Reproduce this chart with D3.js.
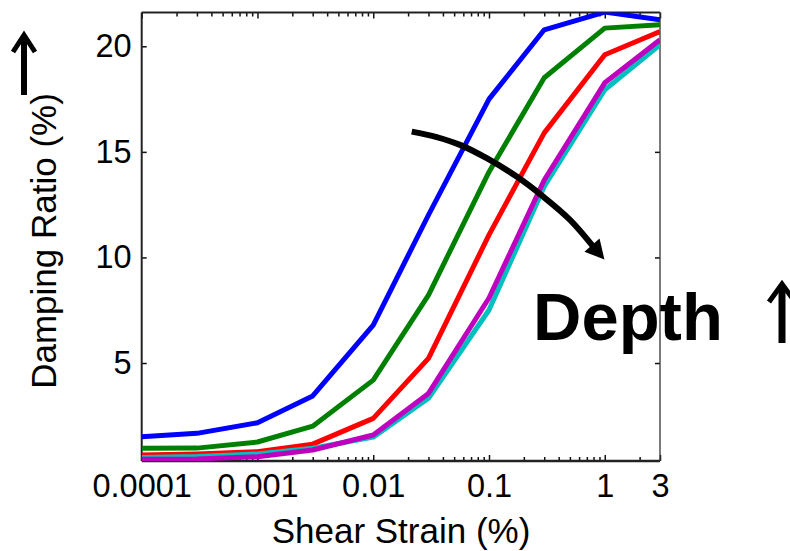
<!DOCTYPE html>
<html>
<head>
<meta charset="utf-8">
<script src="https://cdn.jsdelivr.net/npm/d3@7"></script>
<style>
  body { margin: 0; background: #fff; }
  text { font-family: "Liberation Sans", Arial, Helvetica, sans-serif; }
</style>
</head>
<body>
<div id="chart"></div>
<script>
// strain levels (%) where every curve was sampled
const strain = [0.0001, 0.0003, 0.001, 0.003, 0.01, 0.03, 0.1, 0.3, 1, 3];

// damping ratio (%) per curve, shallow -> deep
const dampBlue    = [1.51, 1.67, 2.17, 3.44, 6.80, 12.01, 17.50, 20.78, 21.62, 21.26];
const dampGreen   = [0.96, 0.97, 1.26, 2.01, 4.19, 8.22, 14.05, 18.51, 20.86, 21.02];
const dampRed     = [0.64, 0.69, 0.80, 1.16, 2.38, 5.22, 11.07, 15.90, 19.60, 20.70];
const dampCyan    = [0.53, 0.57, 0.69, 0.96, 1.49, 3.33, 7.51, 13.36, 17.94, 20.07];
const dampMagenta = [0.44, 0.46, 0.56, 0.88, 1.59, 3.56, 8.08, 13.67, 18.27, 20.31];

// tick values / labels
const xTicks = [0.0001, 0.001, 0.01, 0.1, 1, 3];
const xTickLabels = ["0.0001", "0.001", "0.01", "0.1", "1", "3"];
const yTicks = [5, 10, 15, 20];

// the curved "depth" arrow, in data units
const arrowStrain  = [0.0215, 0.0353, 0.0562, 0.0955, 0.1734, 0.294, 0.501, 0.796];
const arrowDamping = [15.96, 15.70, 15.33, 14.70, 13.83, 12.88, 11.78, 10.51];

const MARGIN = { TOP: 12.5, LEFT: 141.7 };
const WIDTH = 518.3;
const HEIGHT = 448.5;

const svg = d3.select("#chart")
  .append("svg")
  .attr("width", 790)
  .attr("height", 551);

const g = svg.append("g")
  .attr("transform", `translate(${MARGIN.LEFT},${MARGIN.TOP})`);

// scales
const x = d3.scaleLog().domain([0.0001, 3]).range([0, WIDTH]);
const y = d3.scaleLinear().domain([0.36, 21.6]).range([HEIGHT, 0]);

// minor log ticks (2..9 of every decade)
const minorTicks = [];
[0.0001, 0.001, 0.01, 0.1, 1].forEach(d => {
  for (let k = 2; k <= 9; k++) {
    const v = d * k;
    if (v <= 3 && !xTicks.includes(v)) minorTicks.push(+v.toPrecision(3));
  }
});

const FONT = '"Liberation Sans", Arial, Helvetica, sans-serif';

// bottom axis with labels
g.append("g")
  .attr("transform", `translate(0,${HEIGHT})`)
  .call(d3.axisBottom(x)
    .tickValues(xTicks)
    .tickFormat((d, i) => xTickLabels[i])
    .tickSize(-6)
    .tickSizeOuter(0)
    .tickPadding(13))
  .attr("font-size", 32.5)
  .attr("font-family", FONT);

// minor ticks on bottom and top
g.append("g")
  .attr("transform", `translate(0,${HEIGHT})`)
  .call(d3.axisBottom(x).tickValues(minorTicks).tickFormat("").tickSize(-4).tickSizeOuter(0));
g.append("g")
  .call(d3.axisTop(x).tickValues(minorTicks).tickFormat("").tickSize(-4).tickSizeOuter(0));
g.append("g")
  .call(d3.axisTop(x).tickValues(xTicks).tickFormat("").tickSize(-6).tickSizeOuter(0));

// left axis with labels, right axis plain
g.append("g")
  .call(d3.axisLeft(y)
    .tickValues(yTicks)
    .tickSize(-5)
    .tickSizeOuter(0)
    .tickPadding(10))
  .attr("font-size", 32.5)
  .attr("font-family", FONT);
g.append("g")
  .attr("transform", `translate(${WIDTH},0)`)
  .call(d3.axisRight(y).tickValues(yTicks).tickFormat("").tickSize(-5).tickSizeOuter(0));

// drop the default domain paths, the box is drawn below
g.selectAll(".domain").remove();
g.selectAll(".tick line").attr("stroke", "#111").attr("stroke-width", 1.5);
g.selectAll(".tick text").attr("fill", "#000");

// axes box
g.append("line").attr("x1", 0).attr("x2", 0).attr("y1", 0).attr("y2", HEIGHT)
  .attr("stroke", "#222").attr("stroke-width", 2);
g.append("line").attr("x1", 0).attr("x2", WIDTH).attr("y1", 0).attr("y2", 0)
  .attr("stroke", "#222").attr("stroke-width", 2);
g.append("line").attr("x1", 0).attr("x2", WIDTH).attr("y1", HEIGHT).attr("y2", HEIGHT)
  .attr("stroke", "#222").attr("stroke-width", 2.5);
g.append("line").attr("x1", WIDTH).attr("x2", WIDTH).attr("y1", 0).attr("y2", HEIGHT)
  .attr("stroke", "#333").attr("stroke-width", 1.3);

// clip the curves to the plot box
svg.append("defs").append("clipPath").attr("id", "plot-clip")
  .append("rect").attr("width", WIDTH).attr("height", HEIGHT);

const series = [
  { values: dampBlue,    color: "#0000ff" },
  { values: dampGreen,   color: "#008000" },
  { values: dampRed,     color: "#ff0000" },
  { values: dampCyan,    color: "#00bfbf" },
  { values: dampMagenta, color: "#bf00bf" }
];

const line = d3.line()
  .x(d => x(d[0]))
  .y(d => y(d[1]));

g.append("g")
  .attr("clip-path", "url(#plot-clip)")
  .selectAll("path")
  .data(series)
  .enter().append("path")
  .attr("d", s => line(strain.map((v, i) => [v, s.values[i]])))
  .attr("fill", "none")
  .attr("stroke", s => s.color)
  .attr("stroke-width", 5)
  .attr("stroke-linejoin", "round");

// curved arrow pointing toward deeper curves
const arrowPts = arrowStrain.map((v, i) => [x(v), y(arrowDamping[i])]);
g.append("path")
  .attr("d", d3.line().curve(d3.curveCatmullRom)(arrowPts))
  .attr("fill", "none")
  .attr("stroke", "#000")
  .attr("stroke-width", 6);

const [px, py] = arrowPts[arrowPts.length - 2];
const [ex, ey] = arrowPts[arrowPts.length - 1];
const len = Math.hypot(ex - px, ey - py);
const ux = (ex - px) / len, uy = (ey - py) / len;
const tip = [ex + ux * 17, ey + uy * 17];
const b1 = [ex - ux * 2 - uy * 10, ey - uy * 2 + ux * 10];
const b2 = [ex - ux * 2 + uy * 10, ey - uy * 2 - ux * 10];
g.append("path")
  .attr("d", `M${tip}L${b1}L${b2}Z`)
  .attr("fill", "#000");

// axis titles
svg.append("text")
  .attr("x", 401)
  .attr("y", 543)
  .attr("text-anchor", "middle")
  .attr("font-size", 35)
  .text("Shear Strain (%)");

svg.append("text")
  .attr("transform", "translate(56,241) rotate(-90)")
  .attr("text-anchor", "middle")
  .attr("font-size", 35)
  .text("Damping Ratio (%)");

// upward arrow next to the y title
svg.append("line")
  .attr("x1", 24).attr("x2", 24).attr("y1", 95).attr("y2", 38)
  .attr("stroke", "#000").attr("stroke-width", 6);
svg.append("path")
  .attr("d", "M13,52L24,35L35,52")
  .attr("fill", "none").attr("stroke", "#000").attr("stroke-width", 5)
  .attr("stroke-linejoin", "miter");

// "Depth" label and its arrow
svg.append("text")
  .attr("x", 533)
  .attr("y", 340)
  .attr("font-size", 67)
  .attr("font-weight", "bold")
  .text("Depth");

svg.append("line")
  .attr("x1", 782).attr("x2", 782).attr("y1", 343).attr("y2", 287)
  .attr("stroke", "#000").attr("stroke-width", 7);
svg.append("path")
  .attr("d", "M769,302L782,284L795,302")
  .attr("fill", "none").attr("stroke", "#000").attr("stroke-width", 5);
</script>
</body>
</html>
